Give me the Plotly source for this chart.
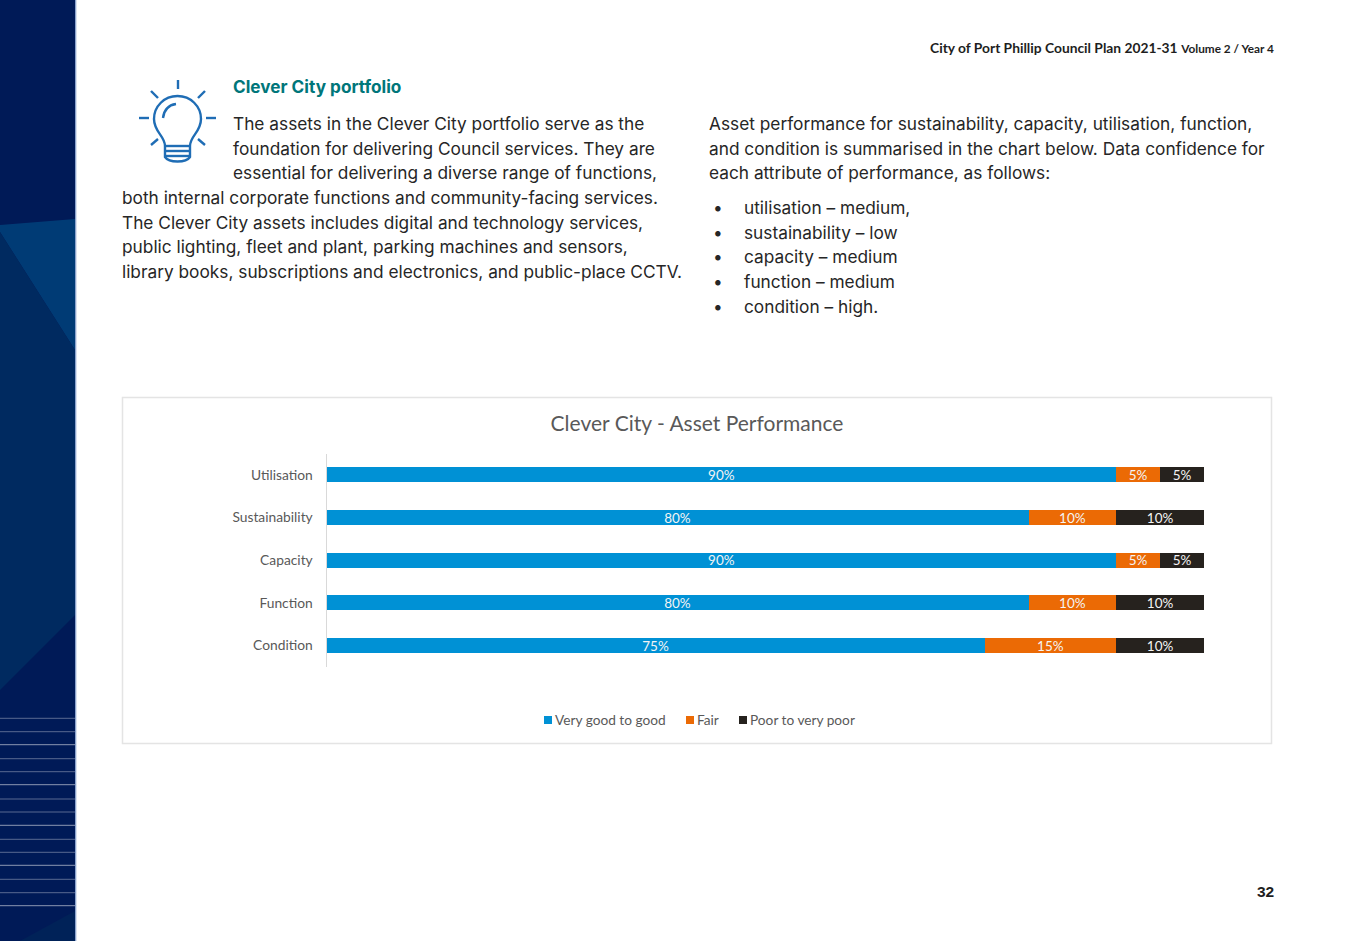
import plotly.graph_objects as go

categories = ["Utilisation", "Sustainability", "Capacity", "Function", "Condition"]
very_good = [90, 80, 90, 80, 75]
fair = [5, 10, 5, 10, 15]
poor = [5, 10, 5, 10, 10]

W, H = 1347, 941
def px(x): return x / W
def py(y): return 1 - y / H
def P(x, y): return f"{px(x):.5f},{py(y):.5f}"

fig = go.Figure()
for name, vals, col in [("Very good to good", very_good, "#0091D5"),
                        ("Fair", fair, "#EB6A05"),
                        ("Poor to very poor", poor, "#26221E")]:
    fig.add_bar(y=categories, x=vals, name=name, orientation="h",
                marker=dict(color=col, line=dict(width=0)),
                text=[f"{v}%" for v in vals], textposition="inside",
                insidetextanchor="middle", textangle=0,
                textfont=dict(family="Lato", size=13.5, color="#F4F4F4"),
                cliponaxis=False, hoverinfo="x+y+name")

shapes = []
def poly(points, color):
    d = "M" + " L".join(P(*p) for p in points) + " Z"
    shapes.append(dict(type="path", xref="paper", yref="paper", path=d,
                       fillcolor=color, line=dict(width=0), layer="below"))

def seg(x0, y0, x1, y1, color, width):
    shapes.append(dict(type="line", xref="paper", yref="paper", x0=px(x0), y0=py(y0),
                       x1=px(x1), y1=py(y1), line=dict(color=color, width=width), layer="below"))

# side band
poly([(0, 0), (75, 0), (75, 941), (0, 941)], "#001A57")
poly([(0, 225), (75, 219), (75, 350), (0, 232)], "#003B75")
poly([(0, 232), (75, 350), (75, 615), (0, 690)], "#002A60")
poly([(75, 911), (75, 941), (20, 941)], "#002258")
seg(75.7, 0, 75.7, 941, "#7F9AC8", 1.2)
for i, y in enumerate([718.3, 731.7, 744.7, 758.7, 771.7, 784.7, 799, 812, 825.3, 839.3, 852.3, 865.3, 879.3, 892.7, 905.7]):
    seg(0, y, 75, y, "rgba(255,255,255,0.55)" if i % 3 == 2 else "rgba(255,255,255,0.35)", 1)

# chart frame
shapes.append(dict(type="rect", xref="paper", yref="paper", x0=px(122.5), x1=px(1271.5),
                   y0=py(743.5), y1=py(397.5), line=dict(color="#E4E4E4", width=1.5), layer="below"))

# bulb icon
ic = "#1F6DB5"
for a in [(178, 80, 178, 89), (139, 118, 149, 118), (206, 118, 216, 118), (151, 91, 158, 98),
          (205, 91, 198, 98), (151, 145, 158, 139), (205, 145, 198, 139),
          (165, 146, 190, 146), (165, 151, 190, 151), (165, 156, 190, 156)]:
    seg(*a, ic, 2.4)
bulb = ("M" + P(165, 146) + " C" + P(165, 136) + " " + P(154, 132) + " " + P(154, 119)
        + " C" + P(154, 106.3) + " " + P(164.3, 96) + " " + P(177.5, 96)
        + " C" + P(190.7, 96) + " " + P(201, 106.3) + " " + P(201, 119)
        + " C" + P(201, 132) + " " + P(190, 136) + " " + P(190, 146)
        + " L" + P(190, 157) + " C" + P(186, 163) + " " + P(169, 163) + " " + P(165, 157) + " Z")
shapes.append(dict(type="path", xref="paper", yref="paper", path=bulb, line=dict(color=ic, width=2.4), layer="below"))
arc = "M" + P(163, 118) + " C" + P(164, 110) + " " + P(169, 105) + " " + P(176, 104)
shapes.append(dict(type="path", xref="paper", yref="paper", path=arc, line=dict(color=ic, width=2.4), layer="below"))

ann = []
def T(x, y, s, size=17.3, color="#262626", family="Inter", anchor="left"):
    ann.append(dict(x=px(x), y=py(y), xref="paper", yref="paper", text=s, showarrow=False,
                    xanchor=anchor, yanchor="middle", font=dict(family=family, size=size, color=color),
                    borderpad=0, borderwidth=0))

T(1274, 48, "<b>City of Port Phillip Council Plan 2021-31</b> <b><span style='font-size:11.8px'>Volume 2 / Year 4</span></b>",
  size=13.8, color="#1E1E1E", family="Lato", anchor="right")
T(233, 87, "<b>Clever City portfolio</b>", size=17.2, color="#00767A")
left_lines = [
    (233, 124, "The assets in the Clever City portfolio serve as the"),
    (233, 148.5, "foundation for delivering Council services. They are"),
    (233, 173, "essential for delivering a diverse range of functions,"),
    (122, 197.5, "both internal corporate functions and community-facing services."),
    (122, 222.5, "The Clever City assets includes digital and technology services,"),
    (122, 247, "public lighting, fleet and plant, parking machines and sensors,"),
    (122, 271.5, "library books, subscriptions and electronics, and public-place CCTV."),
]
for x, y, s in left_lines:
    T(x, y, s)
for y, s in [(124, "Asset performance for sustainability, capacity, utilisation, function,"),
             (148.5, "and condition is summarised in the chart below. Data confidence for"),
             (173, "each attribute of performance, as follows:")]:
    T(709, y, s)
for y, s in [(207.5, "utilisation – medium,"), (232.5, "sustainability – low"), (256.5, "capacity – medium"),
             (281.5, "function – medium"), (306.5, "condition – high.")]:
    T(713, y, "•")
    T(744, y, s)
T(1274, 891, "<b>32</b>", size=15.5, color="#1E1E1E", family="Liberation Sans", anchor="right")

fig.update_layout(
    width=W, height=H, margin=dict(l=0, r=0, t=0, b=0), autosize=False,
    paper_bgcolor="white", plot_bgcolor="white", barmode="stack", bargap=0.65,
    font=dict(family="Lato", color="#595959"),
    uniformtext=dict(minsize=13.5, mode="show"),
    title=dict(text="Clever City - Asset Performance", x=px(697), xanchor="center",
               y=py(424), yanchor="middle", font=dict(family="Lato", size=21, color="#595959")),
    xaxis=dict(domain=[px(326.5), px(1204)], range=[0, 100], visible=False, fixedrange=True),
    yaxis=dict(domain=[py(667), py(453.5)], autorange="reversed", showgrid=False,
               showline=True, linecolor="#D9D9D9", linewidth=1, ticks="outside", ticklen=10,
               tickcolor="rgba(0,0,0,0)", tickfont=dict(family="Lato", size=13.8, color="#595959"),
               fixedrange=True),
    legend=dict(orientation="h", x=px(524), xanchor="left", y=py(720), yanchor="middle",
                font=dict(family="Lato", size=13.7, color="#595959"), traceorder="normal",
                itemclick=False, itemdoubleclick=False),
    shapes=shapes, annotations=ann,
)

# Plotly's legend has a fixed 12px swatch and gap; tighten it to the reference's compact key.
legend_js = """
document.body.style.margin='0';
var gd=document.querySelector('.plotly-graph-div');
var lx=gd.querySelector('.legend').getAttribute('transform').match(/translate\\(([-\\d.]+)/)[1]*1;
var px=[548,690,743];
gd.querySelectorAll('.legend .traces').forEach(function(g,i){
  var m=g.getAttribute('transform').match(/translate\\(([-\\d.]+),\\s*([-\\d.]+)/);
  g.setAttribute('transform','translate('+(px[i]-20-lx)+','+m[2]+')');
  g.querySelectorAll('.legendpoints path').forEach(function(p){p.setAttribute('d','M4,4H-4V-4H4Z');});
  g.querySelector('.legendtext').setAttribute('x','27');
});
"""
fig.write_html("out.html", post_script=legend_js, config=dict(displayModeBar=False))
